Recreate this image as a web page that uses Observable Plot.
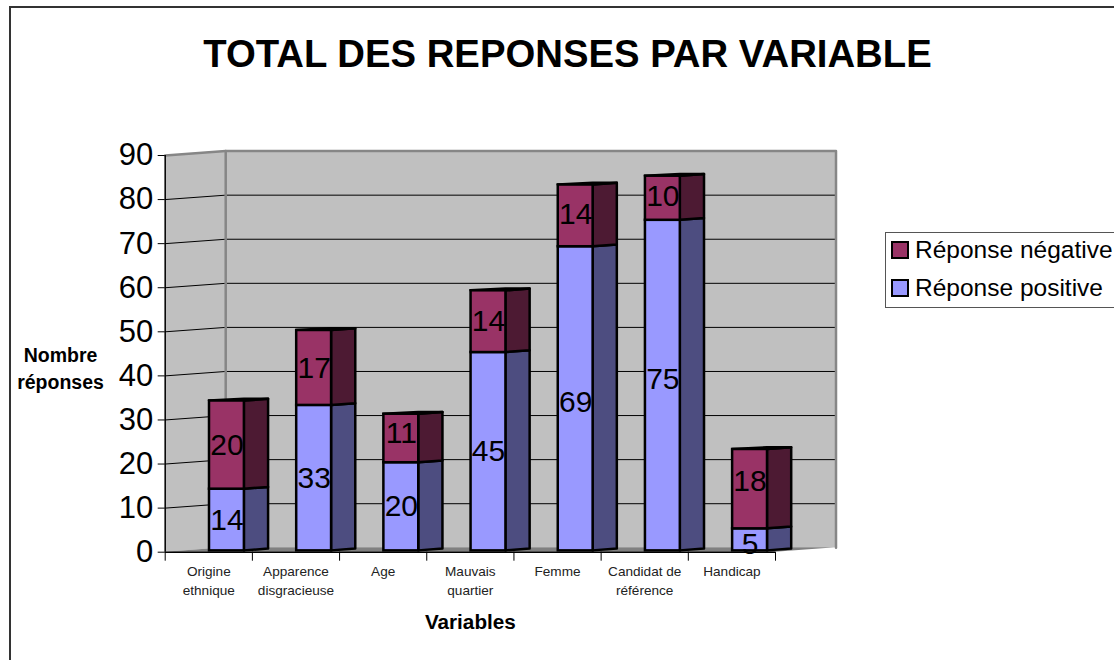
<!DOCTYPE html>
<html lang="fr">
<head>
<meta charset="utf-8">
<script src="https://cdn.jsdelivr.net/npm/d3@7"></script>
<script src="https://cdn.jsdelivr.net/npm/@observablehq/plot@0.6"></script>
<style>
html,body{margin:0;padding:0;background:#fff;width:1114px;height:660px;overflow:hidden;font-family:"Liberation Sans",Arial,sans-serif}
#frame{position:absolute;left:9px;top:6px;width:1120px;height:680px;border:2px solid #333;box-sizing:border-box;pointer-events:none}
#title{position:absolute;left:0;top:31px;width:1135px;text-align:center;font-size:38.3px;font-weight:bold;line-height:46px;color:#000;margin:0}
#legend{position:absolute;left:885px;top:232px;width:240px;height:76px;box-sizing:border-box;border:1.5px solid #555;background:#fff}
.row{position:absolute;left:5px;display:flex;align-items:center;font-size:24.5px;line-height:28px;color:#000;white-space:nowrap}
.sw{display:inline-block;width:14px;height:14px;border:2px solid #000;margin-right:6px;box-sizing:content-box}
#chart{position:absolute;left:0;top:0}
</style>
</head>
<body>
<div id="chart"></div>
<div id="frame"></div>
<h1 id="title"></h1>
<div id="legend"></div>
<script>
const chartTitle = "TOTAL DES REPONSES PAR VARIABLE";
const xTitle = "Variables";
const yTitle = "Nombre\nréponses";
const categories = ["Origine\nethnique","Apparence\ndisgracieuse","Age","Mauvais\nquartier","Femme","Candidat de\nréférence","Handicap"];
const positive = [14,33,20,45,69,75,5];
const negative = [20,17,11,14,14,10,18];
const seriesNames = ["Réponse négative","Réponse positive"];
const yTicks = [0,10,20,30,40,50,60,70,80,90];

const colors = {pos:"#9999ff",posSide:"#4d4d80",neg:"#993366",negSide:"#4d1a33"};
const wall = "#c0c0c0", floorFill = "#808080", wallEdge = "#868686";

// oblique projection of the 3D chart box: depth z in [0,1]
const DX = 0.694, DY = 1, N = categories.length;
const px = (x,z) => x + z*DX;
const py = (v,z) => v + z*DY;
const zF = 0.3, zB = 0.7, barW = 0.4;
// small vertical label adjustments, in value units, [positive, negative] per category
const nudge = [[0,0],[0,0],[0,1.1],[0,0],[-0.7,0.4],[1.4,0.4],[-1,1.8]];

const faces = [];
const rects = [];
const labels = [];
categories.forEach((c,i) => {
  const left = i + 0.5 - barW/2;
  const segs = [
    {lo:0, hi:positive[i], f:colors.pos, s:colors.posSide},
    {lo:positive[i], hi:positive[i]+negative[i], f:colors.neg, s:colors.negSide}
  ];
  segs.forEach((g,j) => {
    rects.push({x1:px(left,zF),x2:px(left+barW,zF),y1:py(g.lo,zF),y2:py(g.hi,zF),fill:g.f});
    const id = `${i}-${j}`;
    [zF,zB].forEach(z => faces.push({id:id+"s",x:px(left+barW,z),y1:py(g.lo,z),y2:py(g.hi,z),fill:g.s}));
    labels.push({x:px(i+0.5,zF),y:py((g.lo+g.hi)/2,zF)+nudge[i][j],t:g.hi-g.lo});
  });
  const top = positive[i]+negative[i];
  faces.push({id:i+"t",x:px(left,zF),y1:py(top,zF),y2:py(top,zF),fill:colors.negSide});
  faces.push({id:i+"t",x:px(left+barW,zF),y1:py(top,zF),y2:py(top,zB),fill:colors.negSide});
  faces.push({id:i+"t",x:px(left+barW,zB),y1:py(top,zB),y2:py(top,zB),fill:colors.negSide});
});

const box = [
  {id:"back",x:px(0,1),y1:py(0,1),y2:py(90,1),fill:wall},
  {id:"back",x:px(N,1),y1:py(0,1),y2:py(90,1),fill:wall},
  {id:"side",x:px(0,0),y1:py(0,0),y2:py(90,0),fill:wall},
  {id:"side",x:px(0,1),y1:py(0,1),y2:py(90,1),fill:wall},
  {id:"floor",x:px(0,0),y1:0,y2:0,fill:floorFill},
  {id:"floor",x:px(0,1),y1:0,y2:py(0,1),fill:floorFill},
  {id:"floor",x:px(N,0),y1:0,y2:py(0,1),fill:floorFill},
  {id:"floor",x:px(N,1),y1:py(0,1),y2:py(0,1),fill:floorFill}
];
const grid = yTicks.filter(v=>v>0&&v<90).flatMap(v => [
  {v,x:px(0,0),y:py(v,0)},{v,x:px(0,1),y:py(v,1)},{v,x:px(N,1),y:py(v,1)}
]);
const edges = [
  {e:"a",x:px(0,0),y:py(90,0)},{e:"a",x:px(0,1),y:py(90,1)},{e:"a",x:px(N,1),y:py(90,1)},{e:"a",x:px(N,1),y:py(0,1)},
  {e:"b",x:px(0,1),y:py(90,1)},{e:"b",x:px(0,1),y:py(0,1)}
];
const tickCats = d3.range(N+1);

const plot = Plot.plot({
  width:1114, height:660,
  marginLeft:164.7, marginRight:339, marginTop:155, marginBottom:108.3,
  style:{fontFamily:'"Liberation Sans",Arial,sans-serif',background:"transparent"},
  x:{domain:[0,N]}, y:{domain:[0,90]},
  color:{type:"identity"},
  marks:[
    Plot.areaY(box,{x:"x",y1:"y1",y2:"y2",z:"id",fill:"fill"}),
    Plot.line(grid,{x:"x",y:"y",z:"v",stroke:"#000",strokeWidth:1}),
    Plot.line(edges,{x:"x",y:"y",z:"e",stroke:wallEdge,strokeWidth:2.5,curve:"linear"}),
    Plot.axisY({ticks:yTicks,tickSize:7,tickPadding:5,fontSize:31,label:null,stroke:"#000",fill:"#000",tickFormat:d=>d}),
    Plot.axisX({ticks:tickCats,tickSize:9,tickFormat:()=>"",label:null,stroke:"#000"}),
    Plot.axisX({ticks:tickCats.slice(0,N).map(i=>i+0.5),tickSize:0,tickPadding:10,fontSize:13.6,lineHeight:1.4,label:null,fill:"#222",tickFormat:d=>categories[d-0.5],textOverflow:null}),
    Plot.ruleX([0],{y1:0,y2:90,stroke:"#000",strokeWidth:1.5}),
    Plot.ruleY([0],{stroke:"#000",strokeWidth:1.5}),
    Plot.areaY(faces,{x:"x",y1:"y1",y2:"y2",z:"id",fill:"fill",stroke:"#000",strokeWidth:2.5,strokeLinejoin:"round"}),
    Plot.rect(rects,{x1:"x1",x2:"x2",y1:"y1",y2:"y2",fill:"fill",stroke:"#000",strokeWidth:2.5,inset:0}),
    Plot.text(labels,{x:"x",y:"y",text:"t",fontSize:30,fill:"#000",lineAnchor:"middle"}),
    Plot.text([xTitle],{frameAnchor:"bottom",dx:0,dy:70,fontSize:20.7,fontWeight:"bold",fill:"#000",lineAnchor:"middle"}),
    Plot.text([yTitle],{frameAnchor:"left",dx:-104.7,dy:13,fontSize:19.5,fontWeight:"bold",fill:"#000",lineHeight:1.36,textAnchor:"middle"})
  ]
});
document.getElementById("chart").append(plot);
document.getElementById("title").textContent = chartTitle;
const lg = document.getElementById("legend");
[[seriesNames[0],colors.neg],[seriesNames[1],colors.pos]].forEach(([n,c],i)=>{
  const r = document.createElement("div");
  r.className="row"; r.style.top=(i===0?3:41)+"px";
  r.innerHTML=`<span class="sw" style="background:${c}"></span>${n}`;
  lg.append(r);
});
</script>
</body>
</html>
